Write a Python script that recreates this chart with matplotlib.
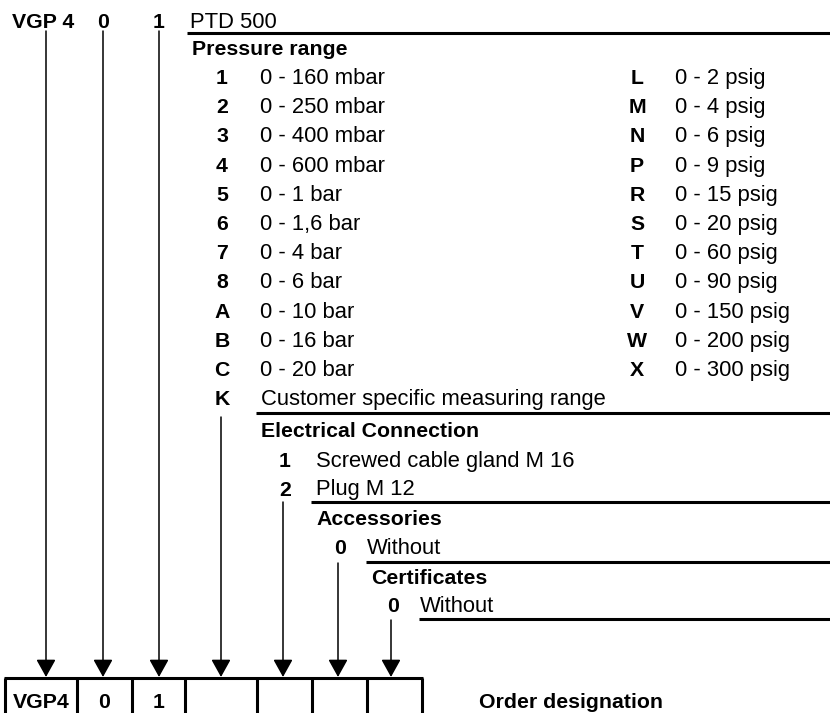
import matplotlib.pyplot as plt

plt.rcParams["font.family"] = ["Liberation Sans", "DejaVu Sans"]

# ordering code data
header_codes = ["VGP 4", "0", "1"]
header_code_x = [12, 103, 159]
product_name = "PTD 500"

pressure_title = "Pressure range"
pressure_codes_bar = ["1", "2", "3", "4", "5", "6", "7", "8", "A", "B", "C"]
pressure_ranges_bar = ["0 - 160 mbar", "0 - 250 mbar", "0 - 400 mbar", "0 - 600 mbar",
                       "0 - 1 bar", "0 - 1,6 bar", "0 - 4 bar", "0 - 6 bar",
                       "0 - 10 bar", "0 - 16 bar", "0 - 20 bar"]
pressure_codes_psi = ["L", "M", "N", "P", "R", "S", "T", "U", "V", "W", "X"]
pressure_ranges_psi = ["0 - 2 psig", "0 - 4 psig", "0 - 6 psig", "0 - 9 psig",
                       "0 - 15 psig", "0 - 20 psig", "0 - 60 psig", "0 - 90 psig",
                       "0 - 150 psig", "0 - 200 psig", "0 - 300 psig"]
custom_code = "K"
custom_text = "Customer specific measuring range"

electrical_title = "Electrical Connection"
electrical_codes = ["1", "2"]
electrical_texts = ["Screwed cable gland M 16", "Plug M 12"]

accessories_title = "Accessories"
accessories_codes = ["0"]
accessories_texts = ["Without"]

certificates_title = "Certificates"
certificates_codes = ["0"]
certificates_texts = ["Without"]

box_labels = ["VGP4", "0", "1", "", "", "", ""]
order_label = "Order designation"

FS_REG = 15.8
FS_BOLD = 15.3
LW_RULE = 2.2
LW_BOX = 2.2
LW_ARROW = 1.1
ROW = 29.2

fig = plt.figure(figsize=(8.3, 7.13), dpi=100)
ax = fig.add_axes([0, 0, 1, 1])
ax.set_xlim(0, 830)
ax.set_ylim(713, 0)
ax.axis("off")


def txt(x, y, s, bold=False, ha="left"):
    ax.text(x, y, s, fontsize=FS_BOLD if bold else FS_REG,
            fontweight="bold" if bold else "normal",
            ha=ha, va="baseline", color="black")


def rule(x0, y):
    ax.plot([x0, 830], [y, y], color="black", lw=LW_RULE, solid_capstyle="butt")


# header line
txt(header_code_x[0], 28, header_codes[0], bold=True)
for s, x in zip(header_codes[1:], header_code_x[1:]):
    txt(x, 28, s, bold=True, ha="center")
txt(190, 28, product_name)
rule(187, 33)

# pressure range block
txt(192, 55, pressure_title, bold=True)
for i, (c, r) in enumerate(zip(pressure_codes_bar, pressure_ranges_bar)):
    y = 84 + ROW * i
    txt(222, y, c, bold=True, ha="center")
    txt(260, y, r)
for i, (c, r) in enumerate(zip(pressure_codes_psi, pressure_ranges_psi)):
    y = 84 + ROW * i
    txt(637, y, c, bold=True, ha="center")
    txt(675, y, r)
y_k = 84 + ROW * len(pressure_codes_bar)
txt(222, y_k, custom_code, bold=True, ha="center")
txt(261, y_k, custom_text)
rule(256, 413)

# electrical connection block
txt(261, 437, electrical_title, bold=True)
for i, (c, s) in enumerate(zip(electrical_codes, electrical_texts)):
    y = 467 + 28.5 * i
    txt(285, y, c, bold=True, ha="center")
    txt(316, y, s)
rule(311, 502)

# accessories block
txt(316, 525, accessories_title, bold=True)
for c, s in zip(accessories_codes, accessories_texts):
    txt(340, 554, c, bold=True, ha="center")
    txt(367, 554, s)
rule(366, 562)

# certificates block
txt(371, 584, certificates_title, bold=True)
for c, s in zip(certificates_codes, certificates_texts):
    txt(393, 612, c, bold=True, ha="center")
    txt(420, 612, s)
rule(419, 619)

# arrows down to the order boxes
arrow_x = [46, 103, 159, 221, 283, 338, 391]
arrow_start = [31, 31, 31, 417, 502, 563, 620]
for x, y0 in zip(arrow_x, arrow_start):
    ax.annotate("", xy=(x, 677), xytext=(x, y0),
                arrowprops=dict(arrowstyle="-|>,head_length=0.9,head_width=0.5",
                                color="black", lw=LW_ARROW, mutation_scale=12,
                                shrinkA=0, shrinkB=0))

# order designation boxes
box_edges = [5, 77, 132, 185, 257, 312, 367, 422]
ax.plot([box_edges[0] - 1, box_edges[-1] + 1], [678, 678], color="black",
        lw=LW_BOX, solid_capstyle="butt")
for x in box_edges:
    ax.plot([x, x], [678, 713], color="black", lw=LW_BOX, solid_capstyle="butt")
for i, lab in enumerate(box_labels):
    cx = (box_edges[i] + box_edges[i + 1]) / 2
    txt(cx, 708, lab, bold=True, ha="center")
txt(479, 708, order_label, bold=True)

fig.savefig("out.png", dpi=100)
